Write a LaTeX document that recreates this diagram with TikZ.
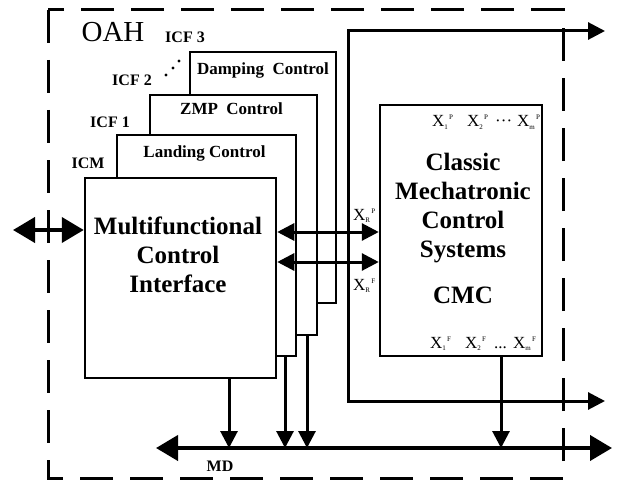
\documentclass[tikz,border=0pt]{standalone}
\usepackage{fontspec}
\setmainfont{Liberation Serif}
\usetikzlibrary{arrows.meta}
\usetikzlibrary{calc}

% signal name with subscript and superscript
\newcommand{\xsig}[2]{X\raisebox{-2.5pt}{\fontsize{7}{7}\selectfont #1}\raisebox{7pt}{\fontsize{7}{7}\selectfont\,#2}}

\tikzset{
  panel/.style={draw, line width=2.5pt, fill=white, inner sep=0pt},
  paneltxt/.style={font=\fontsize{17}{20}\selectfont\bfseries, inner sep=0pt},
  bigtxt/.style={font=\fontsize{25}{29}\selectfont\bfseries, align=center, inner sep=0pt},
  sigtxt/.style={font=\fontsize{17}{17}\selectfont, inner sep=0pt, anchor=base west},
  sigline/.style={line width=3pt, >={Triangle[length=17pt,width=17pt]}},
  busline/.style={line width=4pt, >={Triangle[length=22pt,width=25pt]}}
}

\begin{document}
\begin{tikzpicture}[x=1pt,y=-1pt]
			
			\useasboundingbox (0,0) rectangle (623,484);
			
			% dashed frame of the OAH
			\draw[line width=3pt, dash pattern=on 33pt off 17pt] (48,10) rectangle (563,478);
			\node[font=\fontsize{29}{29}\selectfont, inner sep=0pt] (oah) at (113,32) {OAH};
			
			% outer signal loop
			\coordinate (outP) at (605,31);
			\coordinate (outF) at (605,401);
			\coordinate (sigx) at (348,0);
			\draw[sigline, <->] (outP) -- (outP -| sigx) -- (outF -| sigx) -- (outF);
			
			% stacked control functions, back to front
			\node[panel, minimum width=146pt, minimum height=251pt] (damping) at (263,177.5) {};
			\node[paneltxt] (dampingtxt) at ([yshift=-20pt]damping.north) {Damping\ \ Control};
			\node[panel, minimum width=167pt, minimum height=240pt] (zmp) at (233.5,215) {};
			\node[paneltxt] (zmptxt) at ([yshift=-15pt,xshift=-2pt]zmp.north) {ZMP\ \ Control};
			\node[panel, minimum width=179pt, minimum height=221pt] (landing) at (206.5,245.5) {};
			\node[paneltxt] (landingtxt) at ([yshift=-20pt,xshift=-2pt]landing.north) {Landing Control};
			\node[panel, minimum width=191pt, minimum height=200pt] (mci) at (180.5,278) {};
			\node[bigtxt] (mcitxt) at (178,255) {Multifunctional\\Control\\Interface};
			
			% labels of the layers
			\node[paneltxt, font=\fontsize{16}{16}\selectfont\bfseries] (icf3) at (185,37) {ICF 3};
			\node[paneltxt, font=\fontsize{16}{16}\selectfont\bfseries] (icf2) at (132,80) {ICF 2};
			\node[paneltxt, font=\fontsize{16}{16}\selectfont\bfseries] (icf1) at (110,122) {ICF 1};
			\node[paneltxt, font=\fontsize{16}{16}\selectfont\bfseries] (icm) at (88,163) {ICM};
			\fill (166,75) circle (1.7pt);
			\fill (173,68) circle (1.7pt);
			\fill (179,61) circle (1.7pt);
			
			% classic mechatronic control systems
			\node[panel, minimum width=162pt, minimum height=251pt] (cmc) at (461,230.5) {};
			\node[bigtxt] (cmctxt) at (463,208) {Classic\\Mechatronic\\Control\\Systems};
			\node[bigtxt] (cmcname) at (463,295) {CMC};
			\node[sigtxt] (xp1) at (432,127) {\xsig{1}{P}};
			\node[sigtxt] (xp2) at (467,127) {\xsig{2}{P}};
			\node[sigtxt] (xpd) at (495,127) {\textperiodcentered\textperiodcentered\textperiodcentered};
			\node[sigtxt] (xpm) at (517,127) {\xsig{m}{P}};
			\node[sigtxt] (xf1) at (430,348) {\xsig{1}{F}};
			\node[sigtxt] (xf2) at (465,348) {\xsig{2}{F}};
			\node[sigtxt] (xfd) at (494,348) {...};
			\node[sigtxt] (xfm) at (513,348) {\xsig{m}{F}};
			
			% reference signals between interface and CMC
			\coordinate (rP) at (0,232);
			\coordinate (rF) at (0,262);
			\draw[sigline, <->] (rP -| mci.east) -- (rP -| cmc.west);
			\draw[sigline, <->] (rF -| mci.east) -- (rF -| cmc.west);
			\node[sigtxt] (xrp) at (353,220) {\xsig{R}{P}};
			\node[sigtxt] (xrf) at (353,290) {\xsig{R}{F}};
			
			% external link
			\coordinate (ext) at (13,230);
			\draw[busline, <->] (ext) -- (ext -| mci.west);
			
			% MD bus and taps
			\coordinate (busL) at (156,448);
			\coordinate (busR) at (612,448);
			\draw[busline, <->] (busL) -- (busR);
			\node[paneltxt, font=\fontsize{16}{16}\selectfont\bfseries] (md) at (220,466) {MD};
			\coordinate (tapM) at (229,448);
			\coordinate (tapL) at (285,448);
			\coordinate (tapZ) at (307,448);
			\coordinate (tapC) at (501,448);
			\draw[sigline, ->] (tapM |- mci.south) -- (tapM);
			\draw[sigline, ->] (tapL |- landing.south) -- (tapL);
			\draw[sigline, ->] (tapZ |- zmp.south) -- (tapZ);
			\draw[sigline, ->] (tapC |- cmc.south) -- (tapC);
			
		\end{tikzpicture}
\end{document}
